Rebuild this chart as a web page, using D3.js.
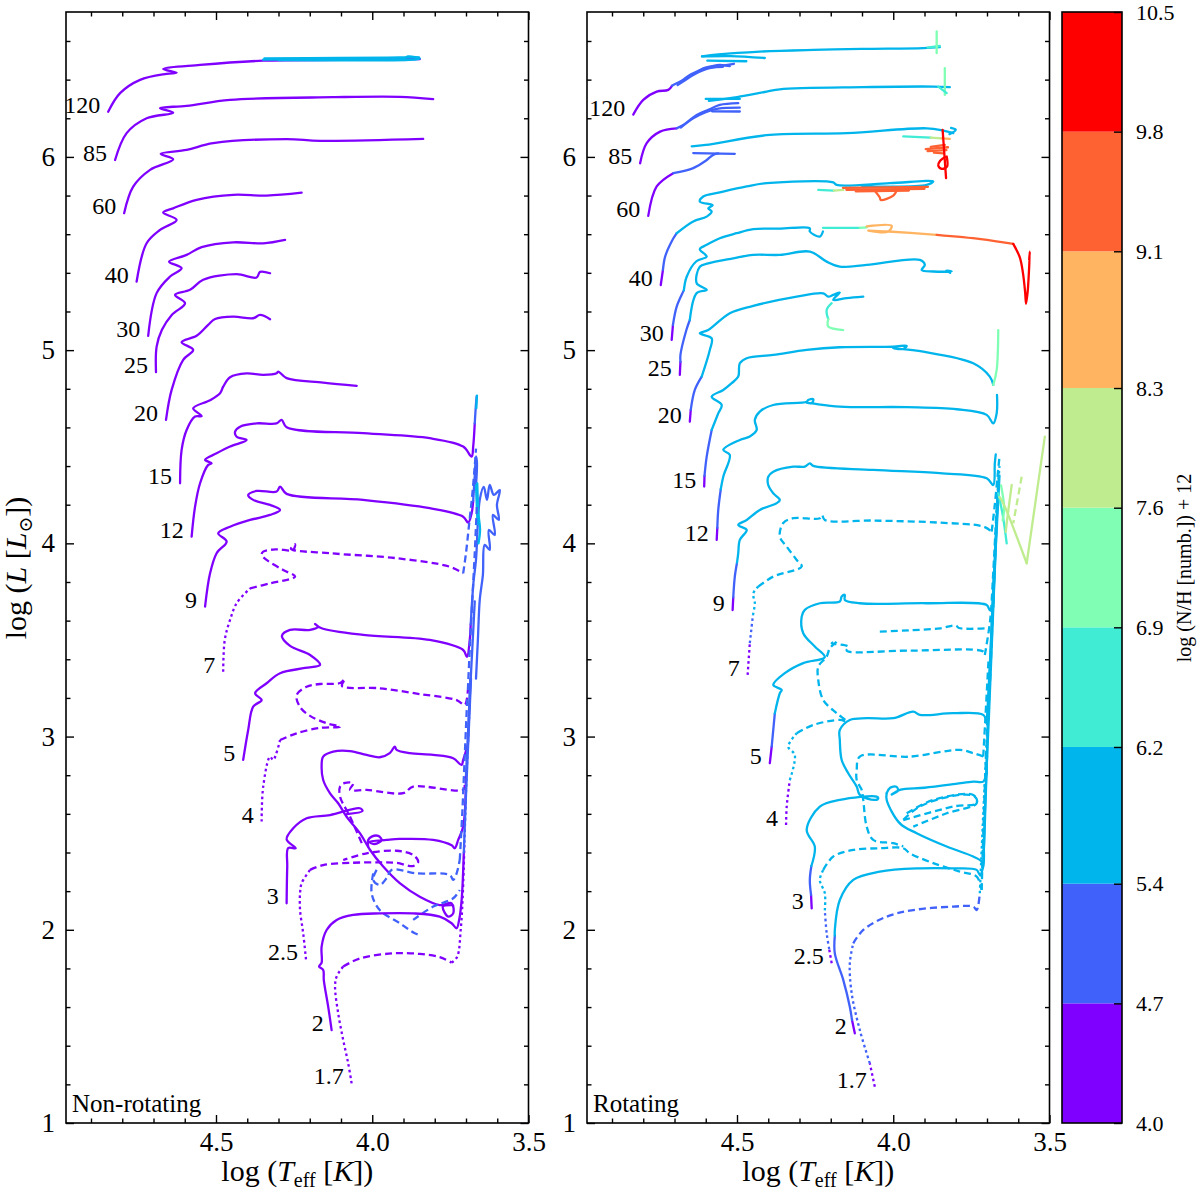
<!DOCTYPE html>
<html>
<head>
<meta charset="utf-8">
<script src="https://cdnjs.cloudflare.com/ajax/libs/d3/7.8.5/d3.min.js"></script>
<style>
  body { margin: 0; background: #fff; }
  text { font-family: "Liberation Serif", "DejaVu Serif", serif; fill: #000; }
</style>
</head>
<body>
<div id="vis"></div>
<script>
// each track piece: [mass label or null, line kind, log(N/H)+12, [[logTeff, logL], ...]]

let nhBounds = [4.0, 4.7, 5.4, 6.2, 6.9, 7.6, 8.3, 9.1, 9.8, 10.5];
let xMajor = [4.5, 4.0, 3.5];
let yMajor = [1, 2, 3, 4, 5, 6];

// ---------- non-rotating panel ----------
let nonRotHigh = [
  [120, 'solid', 4.3, [[4.845,6.234],[4.807,6.330],[4.743,6.399],[4.658,6.430],[4.626,6.436],[4.669,6.455],[4.551,6.476],[4.349,6.498],[4.100,6.502],[3.848,6.506]]],
  [null, 'solid', 5.8, [[4.349,6.503],[4.200,6.506],[4.000,6.504],[3.900,6.509],[3.885,6.520],[3.862,6.516],[3.848,6.509],[3.880,6.502],[4.100,6.500],[4.300,6.501]]],
  [null, 'solid', 5.8, [[4.345,6.510],[4.100,6.512],[3.950,6.514],[3.850,6.515]]],
  [85, 'solid', 4.3, [[4.823,5.984],[4.786,6.123],[4.722,6.200],[4.637,6.229],[4.679,6.252],[4.594,6.264],[4.455,6.295],[4.125,6.309],[3.912,6.311],[3.805,6.299]]],
  [60, 'solid', 4.3, [[4.794,5.709],[4.765,5.846],[4.711,5.933],[4.637,5.988],[4.677,6.016],[4.594,6.036],[4.509,6.071],[4.274,6.092],[4.167,6.083],[3.837,6.093]]],
  [40, 'solid', 4.3, [[4.754,5.355],[4.722,5.553],[4.679,5.622],[4.626,5.674],[4.669,5.712],[4.637,5.734],[4.562,5.778],[4.445,5.804],[4.338,5.800],[4.226,5.815]]],
  [30, 'solid', 4.3, [[4.717,5.074],[4.690,5.295],[4.647,5.381],[4.610,5.424],[4.650,5.458],[4.594,5.493],[4.546,5.533],[4.445,5.558],[4.349,5.553],[4.279,5.571]]],
  [25, 'solid', 4.3, [[4.692,4.886],[4.690,5.018],[4.673,5.105],[4.641,5.183],[4.599,5.243],[4.631,5.286],[4.583,5.312],[4.541,5.364],[4.434,5.393],[4.370,5.376],[4.359,5.405],[4.327,5.398]]],
  [20, 'solid', 4.3, [[4.660,4.639],[4.642,4.794],[4.605,4.950],[4.573,5.001],[4.610,5.041],[4.562,5.074],[4.525,5.131],[4.503,5.161],[4.445,5.173],[4.381,5.165],[4.359,5.182],[4.327,5.160]]]
];

let nonRotMid = [
  [15, 'solid', 4.3, [[4.615,4.311],[4.610,4.484],[4.594,4.587],[4.567,4.656],[4.546,4.659],[4.573,4.699],[4.519,4.741],[4.487,4.777],[4.477,4.811],[4.455,4.860],[4.402,4.880],[4.349,4.872],[4.306,4.880],[4.301,4.889],[4.274,4.855],[4.157,4.832],[4.050,4.815]]],
  [12, 'solid', 4.3, [[4.578,4.035],[4.567,4.190],[4.551,4.311],[4.525,4.406],[4.514,4.415],[4.535,4.432],[4.498,4.466],[4.455,4.501],[4.402,4.535],[4.434,4.552],[4.439,4.578],[4.423,4.604],[4.370,4.621],[4.306,4.621],[4.290,4.639],[4.274,4.601],[4.029,4.570],[3.816,4.544],[3.709,4.501],[3.682,4.449],[3.677,4.501],[3.672,4.621]]],
  [9, 'solid', 4.3, [[4.535,3.673],[4.519,3.845],[4.498,3.949],[4.466,4.009],[4.493,4.052],[4.455,4.086],[4.391,4.121],[4.327,4.147],[4.295,4.173],[4.327,4.199],[4.381,4.225],[4.397,4.250],[4.370,4.271],[4.306,4.268],[4.295,4.294],[4.274,4.256],[4.029,4.225],[3.816,4.182],[3.709,4.138],[3.693,4.107],[3.682,4.156],[3.677,4.220]]],
  [7, 'dot', 4.3, [[4.477,3.336],[4.472,3.500],[4.455,3.604],[4.434,3.690],[4.391,3.767]]],
  [null, 'dash', 4.3, [[4.391,3.767],[4.327,3.793],[4.247,3.828],[4.285,3.862],[4.338,3.914],[4.354,3.940],[4.349,3.957],[4.306,3.969],[4.253,3.966],[4.247,3.995],[4.260,3.972],[4.135,3.949],[3.922,3.923],[3.752,3.879],[3.709,3.845]]],
  [5, 'solid', 4.3, [[4.413,2.879],[4.397,3.034],[4.381,3.155],[4.354,3.189],[4.375,3.224],[4.338,3.276],[4.295,3.328],[4.215,3.355],[4.167,3.371],[4.199,3.422],[4.263,3.469],[4.289,3.521],[4.263,3.552],[4.199,3.552],[4.174,3.568],[4.183,3.583],[4.164,3.562],[4.029,3.526],[3.816,3.500],[3.709,3.448],[3.697,3.412],[3.688,3.500],[3.685,3.580]]]
];

let nonRotLow = [
  [4, 'dot', 4.3, [[4.354,2.560],[4.349,2.741],[4.327,2.896],[4.317,2.879],[4.295,2.982]]],
  [null, 'dash', 4.3, [[4.295,2.982],[4.242,3.017],[4.167,3.045],[4.103,3.051],[4.146,3.069],[4.199,3.107],[4.231,3.153],[4.242,3.215],[4.210,3.258],[4.167,3.272],[4.103,3.277],[4.087,3.298],[4.097,3.262],[3.976,3.250],[3.848,3.220],[3.730,3.189],[3.704,3.164],[3.694,3.241]]],
  [3, 'solid', 4.3, [[4.274,2.137],[4.272,2.327],[4.269,2.423],[4.245,2.422],[4.274,2.468],[4.253,2.525],[4.210,2.577],[4.135,2.594],[4.040,2.629],[4.031,2.615],[4.081,2.599]]],
  [null, 'solid', 4.3, [[3.694,2.957],[3.709,2.879],[3.714,2.853],[3.741,2.888],[3.805,2.905],[3.880,2.914],[3.922,2.931],[3.928,2.948],[3.944,2.914],[3.976,2.893],[4.018,2.905],[4.071,2.925],[4.125,2.922],[4.157,2.896],[4.162,2.845],[4.157,2.775],[4.135,2.706],[4.109,2.655],[4.082,2.585],[4.039,2.499],[4.007,2.413],[3.965,2.327],[3.912,2.241],[3.848,2.171],[3.784,2.128],[3.746,2.137],[3.741,2.085],[3.757,2.068],[3.774,2.120],[3.746,2.128]]],
  [null, 'solid', 4.3, [[4.013,2.430],[4.013,2.465],[4.002,2.482],[3.981,2.486],[3.970,2.465],[3.992,2.444],[4.010,2.455],[3.954,2.465],[3.912,2.470],[3.805,2.465],[3.746,2.437],[3.736,2.422],[3.725,2.465],[3.709,2.534],[3.700,2.800]]],
  [2.5, 'dot', 4.3, [[4.212,1.847],[4.221,1.982],[4.231,2.102],[4.231,2.189],[4.226,2.241],[4.199,2.310]]],
  [null, 'dash', 4.3, [[4.199,2.310],[4.157,2.335],[4.061,2.347],[3.976,2.349],[3.922,2.346],[3.869,2.330],[3.853,2.352],[3.869,2.387],[3.922,2.409],[4.018,2.396],[4.093,2.361]]],
  [null, 'dash', 4.3, [[3.704,2.750],[3.709,2.724],[3.869,2.741],[3.901,2.707],[4.018,2.724],[4.071,2.724],[4.061,2.758],[4.087,2.760],[4.103,2.741],[4.103,2.689],[4.071,2.585],[4.029,2.431]]],
  [null, 'dash', 5.0, [[3.986,2.310],[3.997,2.258],[3.976,2.232],[3.954,2.267],[3.938,2.310],[3.858,2.292],[3.752,2.284],[3.741,2.258],[3.730,2.292],[3.720,2.361]]],
  [null, 'dash', 5.0, [[3.997,2.292],[4.002,2.189],[3.976,2.102],[3.912,2.034],[3.864,1.982],[3.848,1.973]]],
  [null, 'dash', 5.0, [[3.869,2.051],[3.805,2.120],[3.741,2.163],[3.720,2.206]]],
  [2, 'solid', 4.3, [[4.130,1.481],[4.141,1.602],[4.155,1.740],[4.157,1.792],[4.170,1.810],[4.162,1.830],[4.162,1.913],[4.146,1.999],[4.114,2.051],[4.061,2.077],[3.976,2.085],[3.869,2.085],[3.784,2.068],[3.746,2.034],[3.730,2.008],[3.722,2.051],[3.714,2.154],[3.707,2.400]]],
  [1.7, 'dot', 4.3, [[4.066,1.205],[4.077,1.309],[4.093,1.430],[4.109,1.568],[4.119,1.705],[4.114,1.758],[4.093,1.810]]],
  [null, 'dash', 4.3, [[4.093,1.810],[4.039,1.852],[3.933,1.878],[3.848,1.875],[3.784,1.858],[3.746,1.830]]],
  [null, 'dot', 4.3, [[3.746,1.830],[3.728,1.861],[3.717,1.999],[3.711,2.154],[3.705,2.450]]]
];

let nonRotGiants = [
  [null, 'solid', 5.0, [[3.672,4.621],[3.669,4.700],[3.666,4.760]]],
  [null, 'solid', 5.8, [[3.667,4.700],[3.665,4.765]]],
  [null, 'solid', 5.0, [[3.677,4.220],[3.672,4.350],[3.668,4.450],[3.665,4.420],[3.668,4.300]]],
  [null, 'solid', 5.0, [[3.685,3.580],[3.676,3.800],[3.668,3.914],[3.656,4.225],[3.643,4.292],[3.633,4.225],[3.624,4.302],[3.611,4.251],[3.592,4.276],[3.601,4.199],[3.595,4.121],[3.614,4.147],[3.608,4.043],[3.627,4.069],[3.624,3.966],[3.640,3.992],[3.646,3.836],[3.656,3.707],[3.662,3.500],[3.668,3.300]]],
  [null, 'solid', 5.8, [[3.664,4.310],[3.660,4.150],[3.655,4.070],[3.660,4.000]]],
  [null, 'solid', 5.8, [[3.668,4.300],[3.663,4.100]]],
  [null, 'solid', 5.0, [[3.694,2.957],[3.688,3.200],[3.680,3.450],[3.672,3.700]]],
  [null, 'solid', 5.0, [[3.700,2.800],[3.694,3.000],[3.686,3.300]]],
  [null, 'solid', 5.0, [[3.707,2.400],[3.700,2.700],[3.692,3.000],[3.684,3.300]]],
  [null, 'dot', 5.0, [[3.705,2.450],[3.698,2.800],[3.690,3.100]]],
  [null, 'dash', 5.0, [[3.709,3.845],[3.700,3.950],[3.690,4.100],[3.680,4.250],[3.672,4.400],[3.668,4.490]]],
  [null, 'dash', 5.0, [[3.694,3.241],[3.688,3.450],[3.680,3.700],[3.672,3.950],[3.665,4.200]]],
  [null, 'dash', 5.0, [[3.720,2.361],[3.712,2.600],[3.704,2.900],[3.696,3.200]]]
];

// ---------- rotating panel ----------
let rotHigh = [
  [120, 'solid', 4.3, [[4.832,6.219],[4.800,6.295],[4.757,6.338],[4.720,6.347],[4.708,6.368]]],
  [null, 'solid', 5.0, [[4.708,6.368],[4.693,6.381],[4.672,6.400],[4.651,6.424],[4.630,6.440],[4.608,6.459],[4.580,6.470],[4.555,6.476],[4.523,6.470]]],
  [null, 'solid', 5.0, [[4.690,6.372],[4.665,6.398],[4.640,6.424],[4.610,6.448],[4.580,6.462],[4.545,6.466]]],
  [null, 'solid', 5.0, [[4.600,6.458],[4.510,6.482]]],
  [null, 'solid', 5.8, [[4.612,6.520],[4.520,6.522],[4.411,6.512]]],
  [null, 'solid', 5.8, [[4.595,6.498],[4.470,6.495]]],
  [null, 'solid', 5.8, [[4.612,6.520],[4.560,6.530],[4.427,6.545],[4.256,6.554],[4.100,6.559],[3.904,6.563],[3.851,6.568]]],
  [null, 'solid', 6.5, [[3.890,6.566],[3.851,6.574]]],
  [null, 'solid', 7.2, [[3.861,6.649],[3.861,6.537]]],
  [85, 'solid', 4.3, [[4.810,5.967],[4.789,6.071],[4.746,6.131],[4.693,6.148]]],
  [null, 'solid', 5.0, [[4.693,6.148],[4.672,6.165],[4.629,6.217],[4.590,6.245],[4.555,6.269],[4.496,6.278]]],
  [null, 'solid', 5.0, [[4.680,6.152],[4.640,6.200],[4.600,6.232],[4.560,6.250],[4.491,6.255]]],
  [null, 'solid', 5.0, [[4.580,6.236],[4.491,6.235]]],
  [null, 'solid', 5.8, [[4.600,6.300],[4.491,6.300]]],
  [null, 'solid', 5.8, [[4.590,6.290],[4.500,6.310],[4.405,6.338],[4.363,6.350],[4.096,6.361],[3.872,6.364],[3.819,6.361]]],
  [null, 'solid', 7.2, [[3.835,6.459],[3.835,6.321]]],
  [null, 'solid', 6.5, [[3.856,6.364],[3.829,6.330]]],
  [60, 'solid', 4.3, [[4.784,5.695],[4.757,5.847],[4.704,5.916]]],
  [null, 'solid', 5.0, [[4.704,5.916],[4.640,5.942],[4.600,5.980],[4.575,6.012],[4.560,6.018]]],
  [null, 'solid', 5.0, [[4.640,6.020],[4.507,6.016]]],
  [null, 'solid', 5.8, [[4.645,6.055],[4.600,6.062],[4.395,6.114],[4.149,6.123],[3.893,6.148],[3.840,6.136],[3.808,6.123]]],
  [null, 'solid', 5.8, [[3.815,6.150],[3.800,6.140],[3.820,6.118]]],
  [null, 'solid', 6.5, [[3.968,6.106],[3.880,6.100]]],
  [null, 'solid', 7.9, [[3.880,6.100],[3.845,6.096]]],
  [null, 'solid', 8.7, [[3.845,6.096],[3.819,6.093]]],
  [null, 'solid', 9.4, [[3.896,6.040],[3.825,6.050]]],
  [null, 'solid', 9.4, [[3.890,6.030],[3.830,6.035]]],
  [null, 'solid', 9.4, [[3.880,6.052],[3.835,6.062]]],
  [null, 'solid', 9.4, [[3.870,6.022],[3.840,6.018]]],
  [null, 'solid', 10.1, [[3.842,6.140],[3.831,5.890]]],
  [null, 'solid', 10.1, [[3.834,6.000],[3.850,5.980],[3.856,5.955],[3.845,5.938],[3.828,5.950],[3.829,6.002]]],
  [40, 'solid', 4.3, [[4.744,5.337],[4.737,5.415]]],
  [null, 'solid', 5.0, [[4.737,5.415],[4.730,5.484],[4.710,5.560],[4.693,5.605]]],
  [null, 'solid', 5.8, [[4.693,5.605],[4.640,5.666],[4.597,5.691],[4.581,5.717],[4.592,5.734],[4.578,5.750],[4.619,5.769],[4.608,5.795],[4.555,5.816],[4.469,5.847],[4.405,5.864],[4.192,5.868],[4.181,5.855],[4.011,5.864],[3.872,5.873],[3.893,5.855],[4.064,5.847],[4.100,5.850]]],
  [null, 'solid', 6.5, [[4.240,5.829],[4.190,5.826]]],
  [null, 'solid', 7.9, [[4.190,5.826],[4.160,5.829]]],
  [null, 'solid', 9.4, [[4.161,5.840],[3.889,5.845]]],
  [null, 'solid', 9.4, [[4.150,5.830],[3.900,5.835]]],
  [null, 'solid', 9.4, [[4.120,5.822],[3.950,5.826]]],
  [null, 'solid', 9.4, [[4.060,5.826],[4.043,5.790],[4.040,5.777],[4.000,5.800],[3.990,5.822]]],
  [30, 'solid', 4.3, [[4.709,5.053],[4.705,5.130]]],
  [null, 'solid', 5.0, [[4.705,5.130],[4.693,5.225],[4.670,5.310]]],
  [null, 'solid', 5.8, [[4.670,5.310],[4.661,5.380],[4.630,5.460],[4.597,5.484],[4.619,5.522],[4.597,5.545],[4.555,5.579],[4.501,5.605],[4.448,5.626],[4.363,5.629],[4.267,5.631],[4.267,5.614],[4.235,5.588],[4.225,5.614]]],
  [null, 'solid', 6.5, [[4.225,5.633],[4.107,5.633]]],
  [null, 'solid', 7.2, [[4.107,5.633],[4.085,5.635]]],
  [null, 'solid', 8.7, [[4.085,5.640],[4.005,5.643],[4.016,5.614],[4.080,5.619],[4.016,5.614],[3.861,5.597]]],
  [null, 'solid', 9.4, [[3.861,5.597],[3.720,5.575],[3.616,5.550]]],
  [null, 'solid', 10.1, [[3.616,5.550],[3.595,5.480],[3.585,5.400],[3.578,5.300],[3.575,5.240],[3.570,5.300],[3.566,5.400],[3.563,5.510],[3.565,5.470]]],
  [25, 'solid', 4.3, [[4.683,4.872],[4.681,4.939]]],
  [null, 'solid', 5.0, [[4.681,4.939],[4.681,4.975],[4.662,5.104],[4.651,5.156]]],
  [null, 'solid', 5.8, [[4.651,5.156],[4.629,5.295],[4.597,5.312],[4.629,5.346],[4.619,5.432],[4.592,5.449],[4.512,5.475],[4.448,5.493],[4.363,5.493],[4.267,5.510],[4.213,5.458],[4.171,5.432],[4.085,5.441],[3.915,5.467],[3.899,5.441],[3.909,5.415],[3.872,5.407],[3.813,5.407],[3.830,5.412],[3.818,5.400]]],
  [20, 'solid', 4.3, [[4.651,4.630],[4.648,4.691]]],
  [null, 'solid', 5.0, [[4.648,4.691],[4.635,4.794],[4.613,4.863]]],
  [null, 'solid', 5.8, [[4.613,4.863],[4.587,5.001],[4.581,5.061],[4.619,5.087],[4.592,5.104],[4.523,5.191],[4.448,5.229],[4.309,5.277],[4.224,5.294],[4.208,5.277],[4.192,5.286],[4.171,5.298],[4.192,5.260],[4.149,5.269],[4.096,5.277]]],
  [null, 'solid', 6.5, [[4.197,5.243],[4.213,5.208],[4.208,5.160]]],
  [null, 'solid', 7.2, [[4.208,5.160],[4.208,5.122],[4.160,5.104]]]
];

let rotMid = [
  [15, 'solid', 4.3, [[4.605,4.294],[4.604,4.349]]],
  [null, 'solid', 5.0, [[4.604,4.349],[4.597,4.449],[4.581,4.587]]],
  [null, 'solid', 5.8, [[4.581,4.587],[4.560,4.673],[4.549,4.716],[4.581,4.759],[4.544,4.794],[4.517,4.829],[4.496,4.863],[4.491,4.932],[4.469,4.958],[4.384,4.975],[4.277,5.001],[4.171,5.015],[4.000,5.018],[3.957,5.022],[3.968,5.006],[4.000,5.010],[3.904,4.992],[3.744,4.932],[3.691,4.863],[3.680,4.820]]],
  [null, 'solid', 7.2, [[3.680,4.820],[3.669,4.898],[3.664,5.104]]],
  [12, 'solid', 4.3, [[4.565,4.018],[4.563,4.080]]],
  [null, 'solid', 5.0, [[4.563,4.080],[4.560,4.173],[4.552,4.280]]],
  [null, 'solid', 5.8, [[4.552,4.280],[4.544,4.345],[4.523,4.458],[4.544,4.484],[4.491,4.535],[4.459,4.553],[4.437,4.587],[4.443,4.639],[4.427,4.682],[4.384,4.716],[4.277,4.733],[4.272,4.742],[4.256,4.746],[4.261,4.725],[4.277,4.728],[4.171,4.708],[3.957,4.705],[3.797,4.694],[3.701,4.665],[3.680,4.621],[3.669,4.673],[3.668,4.768]]],
  [9, 'solid', 4.3, [[4.514,3.655],[4.512,3.720]]],
  [null, 'solid', 5.0, [[4.512,3.720],[4.507,3.828],[4.500,3.900]]],
  [null, 'solid', 5.8, [[4.500,3.900],[4.496,3.949],[4.491,4.018],[4.469,4.069],[4.496,4.095],[4.469,4.121],[4.427,4.173],[4.373,4.208],[4.363,4.225],[4.384,4.259],[4.400,4.302],[4.400,4.345],[4.384,4.371],[4.320,4.397],[4.283,4.397],[4.267,4.414],[4.256,4.401],[4.064,4.380],[3.851,4.363],[3.701,4.337],[3.680,4.302],[3.675,4.414],[3.672,4.460]]],
  [7, 'dot', 4.3, [[4.466,3.319],[4.459,3.483]]],
  [null, 'dot', 5.0, [[4.459,3.483],[4.449,3.629]]],
  [null, 'dot', 5.8, [[4.449,3.629],[4.443,3.690],[4.448,3.741],[4.432,3.776]]],
  [null, 'dash', 5.8, [[4.432,3.776],[4.384,3.828],[4.293,3.880],[4.309,3.914],[4.341,3.983],[4.363,4.035],[4.352,4.105],[4.320,4.130],[4.235,4.130],[4.228,4.147],[4.219,4.121],[4.064,4.118],[3.851,4.107],[3.712,4.087],[3.685,4.061]]],
  [5, 'solid', 4.3, [[4.395,2.862],[4.389,2.948]]],
  [null, 'solid', 5.0, [[4.389,2.948],[4.379,3.120]]],
  [null, 'solid', 5.8, [[4.379,3.120],[4.363,3.224],[4.357,3.241],[4.384,3.267],[4.347,3.328],[4.288,3.380],[4.219,3.411],[4.251,3.466],[4.288,3.535],[4.293,3.621],[4.283,3.656],[4.235,3.690],[4.171,3.699],[4.165,3.725],[4.155,3.733],[4.155,3.707],[4.107,3.690],[3.893,3.690],[3.701,3.681],[3.691,3.655],[3.680,3.672]]]
];

let rotLow = [
  [4, 'dot', 4.3, [[4.343,2.542],[4.341,2.637],[4.331,2.775]]],
  [null, 'dot', 5.8, [[4.331,2.775],[4.315,2.905],[4.336,2.948],[4.309,3.017]]],
  [null, 'dash', 5.8, [[4.309,3.017],[4.256,3.060],[4.171,3.086],[4.149,3.078],[4.181,3.121],[4.224,3.189],[4.240,3.293],[4.240,3.362],[4.213,3.414],[4.203,3.457],[4.181,3.492],[4.197,3.483],[4.144,3.466],[4.149,3.445],[3.947,3.445],[3.712,3.440],[3.707,3.422]]],
  [null, 'dash', 5.8, [[4.043,3.543],[3.950,3.550],[3.850,3.560],[3.800,3.575],[3.790,3.562],[3.691,3.561]]],
  [3, 'solid', 4.3, [[4.261,2.111],[4.263,2.180]]],
  [null, 'solid', 5.0, [[4.263,2.180],[4.267,2.258],[4.262,2.330]]],
  [null, 'solid', 5.8, [[4.262,2.330],[4.251,2.430],[4.277,2.517],[4.235,2.637],[4.171,2.672],[4.053,2.689],[4.048,2.681],[4.059,2.672],[4.107,2.698],[4.117,2.741],[4.144,2.810],[4.165,2.879],[4.171,2.982],[4.171,3.034],[4.139,3.086],[4.085,3.095],[4.000,3.095],[3.936,3.129],[3.915,3.112],[3.808,3.121],[3.712,3.112],[3.701,3.069]]],
  [null, 'solid', 5.8, [[4.021,2.707],[4.010,2.735],[3.990,2.740],[3.985,2.720],[4.005,2.700],[3.979,2.724],[3.900,2.735],[3.800,2.755],[3.744,2.767],[3.712,2.767],[3.701,2.810]]],
  [null, 'solid', 5.8, [[4.021,2.707],[4.021,2.672],[3.979,2.551],[3.925,2.500],[3.829,2.431],[3.744,2.379],[3.717,2.353],[3.713,2.327]]],
  [2.5, 'dot', 4.3, [[4.197,1.827],[4.205,1.900]]],
  [null, 'dot', 5.0, [[4.205,1.900],[4.213,1.982],[4.219,2.100]]],
  [null, 'dot', 5.8, [[4.219,2.100],[4.219,2.189],[4.235,2.258],[4.224,2.310]]],
  [null, 'dash', 5.8, [[4.224,2.310],[4.192,2.379],[4.128,2.413],[4.043,2.422],[3.968,2.422],[3.947,2.396],[3.872,2.345],[3.787,2.301],[3.733,2.275],[3.717,2.206]]],
  [null, 'dash', 5.8, [[3.712,2.897],[3.744,2.914],[3.787,2.931],[3.947,2.896],[4.107,2.896],[4.117,2.827],[4.117,2.775],[4.101,2.724],[4.096,2.672],[4.085,2.534],[4.064,2.465],[4.000,2.448],[3.968,2.431]]],
  [null, 'dash', 5.8, [[3.968,2.567],[3.808,2.638],[3.733,2.655],[3.739,2.689],[3.787,2.698],[3.915,2.638],[3.979,2.551]]],
  [null, 'dash', 5.8, [[3.957,2.603],[3.872,2.672],[3.744,2.698],[3.733,2.655],[3.829,2.603],[3.936,2.534]]],
  [2, 'solid', 4.3, [[4.123,1.464],[4.132,1.533]]],
  [null, 'solid', 5.0, [[4.132,1.533],[4.139,1.602],[4.160,1.741],[4.187,1.878],[4.187,1.970]]],
  [null, 'solid', 5.8, [[4.187,1.970],[4.187,1.999],[4.171,2.154],[4.128,2.258],[4.043,2.301],[3.915,2.318],[3.808,2.318],[3.733,2.310],[3.723,2.284],[3.712,2.327],[3.710,2.413]]],
  [1.7, 'dot', 4.3, [[4.059,1.188],[4.075,1.309]]],
  [null, 'dot', 5.0, [[4.075,1.309],[4.107,1.481],[4.133,1.671],[4.139,1.827],[4.128,1.930]]],
  [null, 'dash', 5.0, [[4.128,1.930],[4.096,1.999],[4.021,2.068],[3.936,2.102],[3.808,2.120],[3.744,2.120],[3.733,2.102],[3.723,2.189]]]
];

let rotGiants = [
  [null, 'dot', 5.8, [[3.723,2.189],[3.712,2.600],[3.700,3.000],[3.688,3.400],[3.678,3.800],[3.668,4.200],[3.660,4.400]]],
  [null, 'solid', 5.8, [[3.710,2.413],[3.705,2.700],[3.694,3.100],[3.684,3.500],[3.674,3.900],[3.666,4.250]]],
  [null, 'dash', 5.8, [[3.717,2.206],[3.712,2.500],[3.703,2.900],[3.690,3.300],[3.680,3.700],[3.670,4.100]]],
  [null, 'solid', 5.8, [[3.701,3.069],[3.698,3.150],[3.690,3.400],[3.680,3.750],[3.668,4.150],[3.662,4.350]]],
  [null, 'solid', 5.8, [[3.701,2.810],[3.697,3.100],[3.688,3.450],[3.678,3.850]]],
  [null, 'solid', 5.8, [[3.713,2.327],[3.708,2.500],[3.700,2.900]]],
  [null, 'dash', 5.8, [[3.707,3.422],[3.690,3.600],[3.680,3.850],[3.670,4.150],[3.664,4.300]]],
  [null, 'solid', 5.8, [[3.680,3.672],[3.676,3.850],[3.668,4.100],[3.660,4.350]]],
  [null, 'dash', 5.8, [[3.685,4.061],[3.675,4.200],[3.666,4.350],[3.660,4.450]]],
  [null, 'dash', 5.8, [[3.712,2.897],[3.705,3.100],[3.695,3.400]]],
  [null, 'solid', 6.5, [[3.664,4.259],[3.650,4.150],[3.637,4.000]]],
  [null, 'solid', 7.2, [[3.655,4.300],[3.645,4.180],[3.650,4.120]]],
  [null, 'solid', 7.9, [[3.660,4.240],[3.648,4.208],[3.573,3.897]]],
  [null, 'solid', 7.9, [[3.573,3.897],[3.515,4.552]]],
  [null, 'solid', 7.9, [[3.621,4.302],[3.637,4.104],[3.640,4.060]]],
  [null, 'dash', 7.9, [[3.589,4.345],[3.616,4.104]]]
];

// ---------- layout ----------
const plotTop = 12, plotBottom = 1123;
const panels = [
  { x0: 66, x1: 528.5, name: 'Non-rotating', layers: [nonRotLow, nonRotMid, nonRotHigh, nonRotGiants] },
  { x0: 587, x1: 1049.5, name: 'Rotating', layers: [rotLow, rotMid, rotHigh, rotGiants] }
];
const cbar = { x0: 1062, x1: 1122 };

// matplotlib "rainbow" colormap, sampled once per bin
function rainbow(t) {
  let r = Math.min(1, Math.abs(2 * t - 0.5)),
      g = Math.sin(Math.PI * t),
      b = Math.cos(Math.PI * t / 2);
  return d3.rgb(r * 255, g * 255, Math.max(0, b) * 255).formatHex();
}
const binColors = d3.range(nhBounds.length - 1).map(i => rainbow(i / (nhBounds.length - 2)));
const colour = d3.scaleThreshold().domain(nhBounds.slice(1, -1)).range(binColors);

const dashes = { solid: null, dash: '7,4', dot: '2.6,3' };

let svg = d3.select('#vis')
  .append('svg')
  .attr('width', 1200)
  .attr('height', 1200)
  .attr('viewBox', '0 0 1200 1200');

svg.append('rect').attr('width', 1200).attr('height', 1200).attr('fill', '#fff');

let y = d3.scaleLinear().domain([1, 6.75]).range([plotBottom, plotTop]);
let xMinor = d3.range(36, 50).map(d => d / 10).filter(d => !xMajor.includes(d));
let yMinor = d3.range(6, 34).map(d => d / 5).filter(d => d % 1 !== 0 && d > 1 && d < 6.75);

panels.forEach((p, pi) => {
  let x = d3.scaleLinear().domain([4.98, 3.5]).range([p.x0, p.x1]);
  let g = svg.append('g');

  g.append('clipPath').attr('id', 'clip' + pi)
    .append('rect').attr('x', p.x0).attr('y', plotTop)
    .attr('width', p.x1 - p.x0).attr('height', plotBottom - plotTop);

  let line = d3.line()
    .x(d => x(d[0]))
    .y(d => y(d[1]))
    .curve(d3.curveCatmullRom.alpha(0.5));

  let tracks = g.append('g').attr('clip-path', 'url(#clip' + pi + ')');
  p.layers.forEach(layer => {
    tracks.selectAll(null)
      .data(layer)
      .enter()
      .append('path')
      .attr('d', d => line(d[3]))
      .attr('fill', 'none')
      .attr('stroke', d => colour(d[2]))
      .attr('stroke-width', 2.3)
      .attr('stroke-linejoin', 'round')
      .attr('stroke-linecap', d => d[1] === 'solid' ? 'round' : 'butt')
      .attr('stroke-dasharray', d => dashes[d[1]]);
  });

  // mass labels at the start of each track
  let starts = [];
  p.layers.forEach(layer => layer.forEach(s => { if (s[0] !== null) starts.push(s); }));
  g.selectAll(null)
    .data(starts)
    .enter()
    .append('text')
    .attr('x', d => x(d[3][0][0]) - 8)
    .attr('y', d => y(d[3][0][1]) - 7)
    .attr('text-anchor', 'end')
    .attr('dominant-baseline', 'central')
    .attr('font-size', 24)
    .text(d => String(d[0]));

  // axes with inward ticks
  let xb = d3.axisBottom(x).tickValues(xMajor).tickSizeInner(-8).tickSizeOuter(0)
    .tickPadding(9).tickFormat(d3.format('.1f'));
  let xbm = d3.axisBottom(x).tickValues(xMinor).tickSizeInner(-4.5).tickSizeOuter(0).tickFormat('');
  let xt = d3.axisTop(x).tickValues(xMajor).tickSizeInner(-8).tickSizeOuter(0).tickFormat('');
  let xtm = d3.axisTop(x).tickValues(xMinor).tickSizeInner(-4.5).tickSizeOuter(0).tickFormat('');
  let yl = d3.axisLeft(y).tickValues(yMajor).tickSizeInner(-8).tickSizeOuter(0)
    .tickPadding(11).tickFormat(d3.format('d'));
  let ylm = d3.axisLeft(y).tickValues(yMinor).tickSizeInner(-4.5).tickSizeOuter(0).tickFormat('');
  let yr = d3.axisRight(y).tickValues(yMajor).tickSizeInner(-8).tickSizeOuter(0).tickFormat('');
  let yrm = d3.axisRight(y).tickValues(yMinor).tickSizeInner(-4.5).tickSizeOuter(0).tickFormat('');

  [[xb, `translate(0,${plotBottom})`], [xbm, `translate(0,${plotBottom})`],
   [xt, `translate(0,${plotTop})`], [xtm, `translate(0,${plotTop})`],
   [yl, `translate(${p.x0},0)`], [ylm, `translate(${p.x0},0)`],
   [yr, `translate(${p.x1},0)`], [yrm, `translate(${p.x1},0)`]].forEach(a => {
    let ax = g.append('g').attr('transform', a[1]).call(a[0]);
    ax.select('.domain').remove();
    ax.selectAll('line').attr('stroke', '#000').attr('stroke-width', 1.4);
    ax.selectAll('text')
      .attr('font-size', 27)
      .attr('font-family', '"Liberation Serif", "DejaVu Serif", serif')
      .attr('fill', '#000');
  });

  g.append('rect')
    .attr('x', p.x0).attr('y', plotTop)
    .attr('width', p.x1 - p.x0).attr('height', plotBottom - plotTop)
    .attr('fill', 'none').attr('stroke', '#000').attr('stroke-width', 1.6);

  g.append('text')
    .attr('x', p.x0 + 6).attr('y', plotBottom - 11)
    .attr('font-size', 25)
    .text(p.name);

  // x-axis title
  let xl = g.append('text')
    .attr('x', (p.x0 + p.x1) / 2).attr('y', 1181)
    .attr('text-anchor', 'middle')
    .attr('font-size', 30);
  xl.append('tspan').text('log (');
  xl.append('tspan').attr('font-style', 'italic').text('T');
  xl.append('tspan').attr('font-size', 20).attr('dy', 6).text('eff');
  xl.append('tspan').attr('dy', -6).text(' [');
  xl.append('tspan').attr('font-style', 'italic').text('K');
  xl.append('tspan').text('])');
});

// y-axis title
let ylab = svg.append('text')
  .attr('transform', 'translate(26,568) rotate(-90)')
  .attr('text-anchor', 'middle')
  .attr('font-size', 30);
ylab.append('tspan').text('log (');
ylab.append('tspan').attr('font-style', 'italic').text('L');
ylab.append('tspan').text(' [');
ylab.append('tspan').attr('font-style', 'italic').text('L');
ylab.append('tspan').attr('font-size', 19).attr('dy', 6).text('⊙');
ylab.append('tspan').attr('dy', -6).text('])');

// colour bar
let cy = d3.scaleLinear().domain([nhBounds[0], nhBounds[nhBounds.length - 1]]).range([plotBottom, plotTop]);
let cb = svg.append('g');
cb.selectAll(null)
  .data(d3.pairs(nhBounds))
  .enter()
  .append('rect')
  .attr('x', cbar.x0)
  .attr('y', d => cy(d[1]))
  .attr('width', cbar.x1 - cbar.x0)
  .attr('height', d => cy(d[0]) - cy(d[1]))
  .attr('fill', (d, i) => binColors[i]);
cb.append('rect')
  .attr('x', cbar.x0).attr('y', plotTop)
  .attr('width', cbar.x1 - cbar.x0).attr('height', plotBottom - plotTop)
  .attr('fill', 'none').attr('stroke', '#000').attr('stroke-width', 1.6);

let cax = cb.append('g').attr('transform', `translate(${cbar.x1},0)`)
  .call(d3.axisRight(cy).tickValues(nhBounds).tickSizeInner(-8).tickSizeOuter(0)
    .tickPadding(14).tickFormat(d3.format('.1f')));
cax.select('.domain').remove();
cax.selectAll('line').attr('stroke', '#000').attr('stroke-width', 1.4);
cax.selectAll('text')
  .attr('font-size', 22)
  .attr('font-family', '"Liberation Serif", "DejaVu Serif", serif')
  .attr('fill', '#000');

svg.append('text')
  .attr('transform', 'translate(1184,568) rotate(-90)')
  .attr('text-anchor', 'middle')
  .attr('dominant-baseline', 'central')
  .attr('font-size', 20)
  .text('log (N/H [numb.]) + 12');
</script>
</body>
</html>
